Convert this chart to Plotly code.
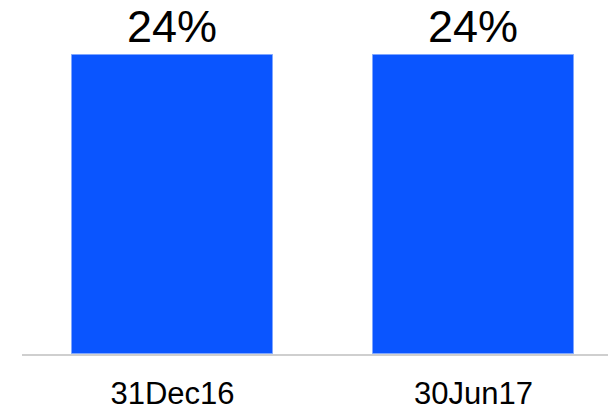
import plotly.graph_objects as go

# Period labels and the ratio reported for each
periods = ["31Dec16", "30Jun17"]
ratios = [24, 24]
ratio_labels = ["24%", "24%"]

bar_color = "#0A55FF"

fig = go.Figure(
    go.Bar(
        x=periods,
        y=ratios,
        text=ratio_labels,
        textposition="outside",
        textfont=dict(family="Liberation Sans, Arial, sans-serif", size=45, color="#000000"),
        constraintext="none",
        cliponaxis=False,
        width=0.668,
        marker=dict(color=bar_color, line=dict(color="#7fa6ff", width=1)),
        hoverinfo="skip",
    )
)

fig.update_layout(
    width=608,
    height=411,
    margin=dict(l=22, r=0, t=0, b=52),
    paper_bgcolor="white",
    plot_bgcolor="white",
    showlegend=False,
    bargap=0,
)

fig.update_xaxes(
    type="category",
    range=[-0.5, 1.447],
    showline=True,
    linecolor="#cfcfcf",
    linewidth=2,
    showgrid=False,
    ticks="",
    ticklabelstandoff=11,
    tickfont=dict(family="Liberation Sans, Arial, sans-serif", size=31, color="#000000"),
)

fig.update_yaxes(
    range=[0, 28.45],
    visible=False,
    showgrid=False,
    zeroline=False,
)

fig.write_html("out.html")
